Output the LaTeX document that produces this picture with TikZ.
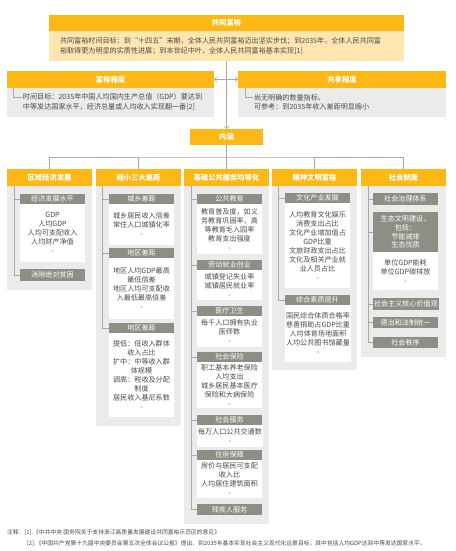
\documentclass[tikz,border=0pt]{standalone}
\usepackage{fontspec}
\setmainfont{Noto Sans CJK SC}
\usetikzlibrary{arrows.meta}
\definecolor{orC}{HTML}{FDB815}
\definecolor{obC}{HTML}{FFE6B0}
\definecolor{gbC}{HTML}{EBEBEB}
\definecolor{subC}{HTML}{8E8E84}
\definecolor{txC}{HTML}{4A4A4A}
\definecolor{lnC}{HTML}{A8A8A8}
\begin{document}
\begin{tikzpicture}[x=1pt,y=-1pt,
  every node/.style={inner sep=1pt, outer sep=0pt},
  hdr/.style={fill=orC, text=white, font=\fontsize{7.3}{9}\selectfont\bfseries, anchor=north west},
  obody/.style={fill=obC, text=txC, font=\fontsize{7.1}{9.2}\selectfont, anchor=north west, align=left},
  gbody/.style={fill=gbC, text=txC, font=\fontsize{7.1}{9.2}\selectfont, anchor=north west, align=left},
  colbody/.style={fill=gbC, anchor=north west, minimum width=85pt},
  colhdr/.style={hdr, minimum width=85pt, minimum height=17pt},
  subbox/.style={fill=subC, text=white, font=\fontsize{7.1}{8.6}\selectfont, anchor=north west, minimum width=65pt, minimum height=10pt, align=center},
  cbox/.style={fill=white, text=txC, font=\fontsize{7.1}{9}\selectfont, anchor=north west, minimum width=65pt, align=center},
  tree/.style={draw=lnC, line width=0.7pt},
  arr/.style={draw=lnC, line width=0.7pt},
  note/.style={text=txC, font=\fontsize{5.8}{7}\selectfont, anchor=west}
]
\useasboundingbox[fill=white] (0,0) rectangle (455,551);

% ---- top box
\node[hdr, minimum width=355pt, minimum height=16pt] (toph) at (49,15) {共同富裕};
\node[obody, minimum width=355pt, minimum height=30pt, text width=333pt, inner xsep=11pt] (topb) at (49,31)
  {共同富裕时间目标：到“十四五”末期，全体人民共同富裕迈出坚实步伐；到2035年，全体人民共同富\\裕取得更为明显的实质性进展；到本世纪中叶，全体人民共同富裕基本实现[1]};

% ---- second row
\node[hdr, minimum width=207pt, minimum height=17pt] (fyh) at (7,71) {富裕程度};
\fill[gbC] (7,88) rectangle (214,117);
\node[gbody, fill=none, anchor=west] (fyb) at (22,102)
  {时间目标：2035年中国人均国内生产总值（GDP）要达到\\中等发达国家水平，经济总量或人均收入实现翻一番[2]};
\node[hdr, minimum width=208pt, minimum height=17pt] (gxh) at (238,71) {共享程度};
\fill[gbC] (238,88) rectangle (446,117);
\node[gbody, fill=none, anchor=west] (gxb) at (253,102)
  {尚无明确的数量指标。\\可参考：到2035年收入差距明显缩小};
\draw[tree] (fyh.south west) ++(6,0) coordinate (fyt) |- ([yshift=-4.5pt]fyb.north west);
\draw[tree] (gxh.south west) ++(7,0) coordinate (gxt) |- ([yshift=-4.5pt]gxb.north west);

% ---- 内涵
\node[hdr, minimum width=73pt, minimum height=16pt] (nh) at (190,129) {内涵};
\draw[arr, -{Straight Barb[length=2.5pt,width=5pt]}] (topb.south) -- (nh.north);
\draw[arr, {Straight Barb[length=2.5pt,width=5pt]}-{Straight Barb[length=2.5pt,width=5pt]}] (fyh.east) -- (gxh.west);

% ---- columns
\node[colbody, minimum height=121pt] (c1b) at (7,169) {};
\node[colbody, minimum height=257pt] (c2b) at (96,169) {};
\node[colbody, minimum height=355pt] (c3b) at (184,169) {};
\node[colbody, minimum height=201pt] (c4b) at (272,169) {};
\node[colbody, minimum height=188pt] (c5b) at (361,169) {};
\node[colhdr] (c1h) at (7,169) {区域经济发展};
\node[colhdr] (c2h) at (96,169) {缩小三大差距};
\node[colhdr] (c3h) at (184,169) {基础公共服务均等化};
\node[colhdr] (c4h) at (272,169) {精神文明富裕};
\node[colhdr] (c5h) at (361,169) {社会制度};

\coordinate (bus) at (0,157);
\draw[arr] (nh.south) -- (nh.south |- bus);
\draw[arr] (c1h.north) |- (nh.south |- bus) -| (c5h.north);
\draw[arr] (c2h.north) -- (c2h.north |- bus);
\draw[arr] (c3h.north) -- (c3h.north |- bus);
\draw[arr] (c4h.north) -- (c4h.north |- bus);

% col1
\node[subbox] (s11) at (20,194) {经济发展水平};
\node[cbox, minimum height=58pt] (w11) at (20,204) {GDP\\人均GDP\\人均可支配收入\\人均财产净值\\-};
\node[subbox, minimum height=12pt] (s12) at (20,269) {消除绝对贫困};
\coordinate (t1) at ([xshift=7pt]c1h.south west);
\draw[tree] (t1) |- (s11.west);
\draw[tree] (t1) |- (s12.west);

% col2
\node[subbox] (s21) at (109,194) {城乡差距};
\node[cbox, minimum height=41pt] (w21) at (109,204) {城乡居民收入倍差\\常住人口城镇化率\\-};
\node[subbox] (s22) at (109,248) {地区差距};
\node[cbox, minimum height=61pt] (w22) at (109,258) {地区人均GDP最高\\最低倍差\\地区人均可支配收\\入最低最高倍差\\-};
\node[subbox] (s23) at (109,323) {地区差距};
\node[cbox, minimum height=84pt] (w23) at (109,333) {提低：低收入群体\\收入占比\\扩中：中等收入群\\体规模\\调高：税收及分配\\制度\\居民收入基尼系数\\-};
\coordinate (t2) at ([xshift=6pt]c2h.south west);
\draw[tree] (t2) |- (s21.west);
\draw[tree] (t2) |- (s22.west);
\draw[tree] (t2) |- (s23.west);

% col3
\node[subbox] (s31) at (197,194) {公共教育};
\node[cbox, minimum height=50pt] (w31) at (197,204) {教育普及度，如义\\务教育巩固率，高\\等教育毛入园率\\教育支出强度\\-};
\node[subbox] (s32) at (197,260) {劳动就业创业};
\node[cbox, minimum height=30pt] (w32) at (197,270) {城镇登记失业率\\城镇居民就业率\\-};
\node[subbox] (s33) at (197,306) {医疗卫生};
\node[cbox, minimum height=31pt] (w33) at (197,316) {每千人口拥有执业\\医师数\\-};
\node[subbox] (s34) at (197,352) {社会保险};
\node[cbox, minimum height=46pt] (w34) at (197,362) {职工基本养老保险\\人均支出\\城乡居民基本医疗\\保险和大病保险\\-};
\node[subbox] (s35) at (197,415) {社会服务};
\node[cbox, minimum height=22pt] (w35) at (197,425) {每万人口公共交通数\\-};
\node[subbox] (s36) at (197,450) {住房保障};
\node[cbox, minimum height=38pt] (w36) at (197,460) {房价与居民可支配\\收入比\\人均居住建筑面积\\-};
\node[subbox, minimum height=11pt] (s37) at (197,504) {残疾人服务};
\coordinate (t3) at ([xshift=7pt]c3h.south west);
\foreach \s in {s31,s32,s33,s34,s35,s36,s37} {\draw[tree] (t3) |- (\s.west);}

% col4
\node[subbox] (s41) at (285,193) {文化产业发展};
\node[cbox, minimum height=85pt] (w41) at (285,203) {人均教育文化娱乐\\消费支出占比\\文化产业增加值占\\GDP比重\\文旅财政支出占比\\文化及相关产业就\\业人员占比\\-};
\node[subbox] (s42) at (285,295) {综合素质提升};
\node[cbox, minimum height=57pt] (w42) at (285,305) {国民综合体质合格率\\慈善捐助占GDP比重\\人均体育场地面积\\人均公共图书馆藏量\\-};
\coordinate (t4) at ([xshift=6pt]c4h.south west);
\draw[tree] (t4) |- (s41.west);
\draw[tree] (t4) |- (s42.west);

% col5
\node[subbox, minimum height=12pt] (s51) at (373,193) {社会治理体系};
\node[subbox, minimum height=40pt] (s52) at (373,212) {生态文明建设，\\包括：\\节能减排\\生态优质};
\node[cbox, minimum height=38pt] (w52) at (373,252) {单位GDP能耗\\单位GDP碳排放\\-};
\node[subbox, minimum height=12pt] (s53) at (373,298) {社会主义核心价值观};
\node[subbox, minimum height=11pt] (s54) at (373,317) {德治和法制统一};
\node[subbox, minimum height=11pt] (s55) at (373,337) {社会秩序};
\coordinate (t5) at ([xshift=7pt]c5h.south west);
\foreach \s in {s51,s52,s53,s54,s55} {\draw[tree] (t5) |- (\s.west);}

% notes
\node[note] (n1) at (6,533) {注释：[1].《中共中央 国务院关于支持浙江高质量发展建设共同富裕示范区的意见》};
\node[note] (n2) at (26,544) {[2].《中国共产党第十九届中央委员会第五次全体会议公报》提出，到2035年基本实现社会主义现代化远景目标，其中包括人均GDP达到中等发达国家水平。};
\end{tikzpicture}
\end{document}
